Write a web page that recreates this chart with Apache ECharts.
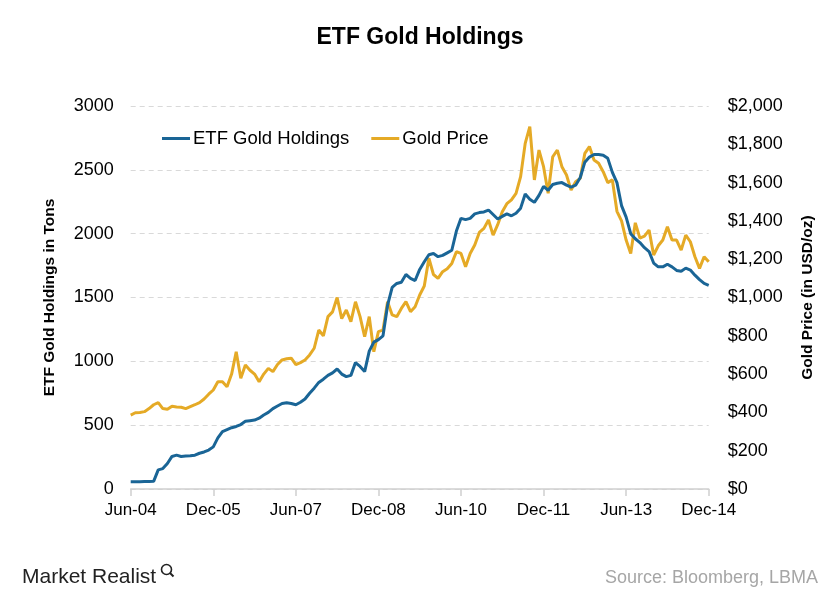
<!DOCTYPE html>
<html>
<head>
<meta charset="utf-8">
<script src="https://cdn.jsdelivr.net/npm/echarts@6/dist/echarts.min.js"></script>
<style>
html,body{margin:0;padding:0;background:#fff;}
#chart{width:840px;height:600px;}
</style>
</head>
<body>
<div id="chart"></div>
<script>
// Monthly categories Jun-04 .. Dec-14
const monthNames = ['Jan','Feb','Mar','Apr','May','Jun','Jul','Aug','Sep','Oct','Nov','Dec'];
const categories = [];
for (let i = 0; i < 127; i++) {
  const mi = (5 + i) % 12;
  const yr = 4 + Math.floor((5 + i) / 12);
  categories.push(monthNames[mi] + '-' + (yr < 10 ? '0' + yr : '' + yr));
}

// ETF gold holdings (tons), monthly
const etfHoldings = [
  57, 57, 57, 58, 58, 60, 150, 160, 200, 255, 265, 255,
  258, 260, 265, 280, 290, 305, 330, 400, 450, 465, 480, 490,
  505, 530, 535, 540, 555, 580, 600, 630, 650, 670, 675, 670,
  660, 680, 705, 750, 790, 835, 860, 890, 910, 940, 900, 880,
  890, 990, 960, 920, 1080, 1150, 1170, 1200, 1440, 1580, 1610, 1620,
  1680, 1650, 1633, 1720, 1780, 1835, 1845, 1820, 1830, 1850, 1870, 2020,
  2120, 2110, 2120, 2155, 2165, 2170, 2185, 2150, 2115, 2135, 2155, 2140,
  2160, 2200, 2310, 2270, 2245, 2300, 2370, 2340, 2385, 2395, 2400, 2380,
  2365, 2380, 2440, 2560, 2600, 2620, 2620, 2615, 2590, 2480, 2400, 2220,
  2130, 2000, 1960, 1930, 1890, 1860, 1770, 1740, 1740, 1760, 1740, 1712,
  1705, 1730, 1715, 1675, 1640, 1610, 1595
];

// Gold price (USD/oz), monthly
const goldPrice = [
  386, 398, 400, 404, 420, 440, 451, 420, 416, 432, 428, 427,
  420, 430, 440, 451, 470, 495, 517, 560, 560, 534, 600, 717,
  578, 647, 620, 600, 560, 600, 630, 613, 650, 674, 680, 683,
  650, 660, 674, 700, 735, 830, 800, 900, 925, 1000, 890, 935,
  874, 978, 900, 795, 900, 717, 822, 830, 978, 909, 900, 943,
  978, 926, 952, 1013, 1060, 1205, 1120, 1100, 1135, 1150, 1178, 1239,
  1230, 1161, 1230, 1274, 1340, 1361, 1405, 1326, 1380, 1448, 1490, 1510,
  1544, 1631, 1805, 1892, 1614, 1770, 1683, 1544, 1735, 1770, 1683, 1640,
  1561, 1605, 1622, 1753, 1788, 1718, 1701, 1657, 1600, 1614, 1450, 1400,
  1300, 1230, 1390, 1310, 1320, 1352, 1222, 1270, 1300, 1370, 1300, 1300,
  1248, 1326, 1291, 1213, 1152, 1213, 1187
];

const leftTicks = [0, 500, 1000, 1500, 2000, 2500, 3000];
const rightTicks = [0, 200, 400, 600, 800, 1000, 1200, 1400, 1600, 1800, 2000];

const FONT = '"Liberation Sans", Arial, sans-serif';
const chart = echarts.init(document.getElementById('chart'));
chart.setOption({
  backgroundColor: '#ffffff',
  animation: false,
  title: {
    text: 'ETF Gold Holdings',
    left: 'center',
    top: 21,
    textStyle: { fontFamily: FONT, fontWeight: 'bold', fontSize: 23, color: '#000' }
  },
  legend: {
    left: 157,
    top: 124,
    itemWidth: 28,
    itemHeight: 3,
    itemGap: 22,
    icon: 'rect',
    textStyle: { fontFamily: FONT, fontSize: 18.5, color: '#000', padding: [0, 0, 0, -2] },
    data: ['ETF Gold Holdings', 'Gold Price']
  },
  grid: { left: 130.7, right: 131.3, top: 106, bottom: 111, containLabel: false },
  xAxis: {
    type: 'category',
    data: categories,
    boundaryGap: false,
    axisLine: { lineStyle: { color: '#d0d0d0', width: 1.5 } },
    axisTick: { show: true, interval: 17, length: 7, lineStyle: { color: '#d0d0d0', width: 1.5 } },
    axisLabel: { interval: 17, fontFamily: FONT, fontSize: 17, color: '#000', margin: 13 },
    splitLine: { show: false }
  },
  yAxis: [
    {
      type: 'value',
      min: leftTicks[0],
      max: leftTicks[leftTicks.length - 1],
      interval: 500,
      name: 'ETF Gold Holdings in Tons',
      nameLocation: 'middle',
      nameGap: 73,
      nameTextStyle: { fontFamily: FONT, fontWeight: 'bold', fontSize: 15.5, color: '#000' },
      axisLine: { show: false },
      axisTick: { show: false },
      axisLabel: { fontFamily: FONT, fontSize: 18, color: '#000', margin: 17, formatter: function (v) { return String(v); } },
      splitLine: { show: true, lineStyle: { color: '#d9d9d9', type: [5, 4], width: 1 } }
    },
    {
      type: 'value',
      min: rightTicks[0],
      max: rightTicks[rightTicks.length - 1],
      interval: 200,
      name: 'Gold Price (in USD/oz)',
      nameLocation: 'middle',
      nameGap: 91,
      nameRotate: 90,
      nameTextStyle: { fontFamily: FONT, fontWeight: 'bold', fontSize: 15.5, color: '#000' },
      axisLine: { show: false },
      axisTick: { show: false },
      axisLabel: {
        fontFamily: FONT, fontSize: 18, color: '#000', margin: 19,
        formatter: function (v) { return '$' + v.toLocaleString('en-US'); }
      },
      splitLine: { show: false }
    }
  ],
  series: [
    {
      name: 'Gold Price',
      type: 'line',
      yAxisIndex: 1,
      data: goldPrice,
      showSymbol: false,
      symbol: 'none',
      lineStyle: { color: '#e5aa26', width: 3 },
      itemStyle: { color: '#e5aa26' },
      z: 2
    },
    {
      name: 'ETF Gold Holdings',
      type: 'line',
      yAxisIndex: 0,
      data: etfHoldings,
      showSymbol: false,
      symbol: 'none',
      lineStyle: { color: '#1a6596', width: 3 },
      itemStyle: { color: '#1a6596' },
      z: 3
    }
  ],
  graphic: [
    {
      type: 'text', left: 22, top: 567,
      style: { text: 'Market Realist', fontFamily: '"Liberation Sans Narrow", "Liberation Sans", Arial, sans-serif', fontSize: 21, fill: '#222' }
    },
    {
      type: 'group', left: 159, top: 562,
      children: [
        { type: 'circle', shape: { cx: 6, cy: 6, r: 5 }, style: { fill: 'none', stroke: '#222', lineWidth: 1.6 } },
        { type: 'line', shape: { x1: 9.5, y1: 9.5, x2: 13, y2: 13 }, style: { stroke: '#222', lineWidth: 2 } }
      ]
    },
    {
      type: 'text', right: 22, top: 569,
      style: { text: 'Source: Bloomberg, LBMA', fontFamily: FONT, fontSize: 18, fill: '#a6a6a6' }
    }
  ]
});
</script>
</body>
</html>
